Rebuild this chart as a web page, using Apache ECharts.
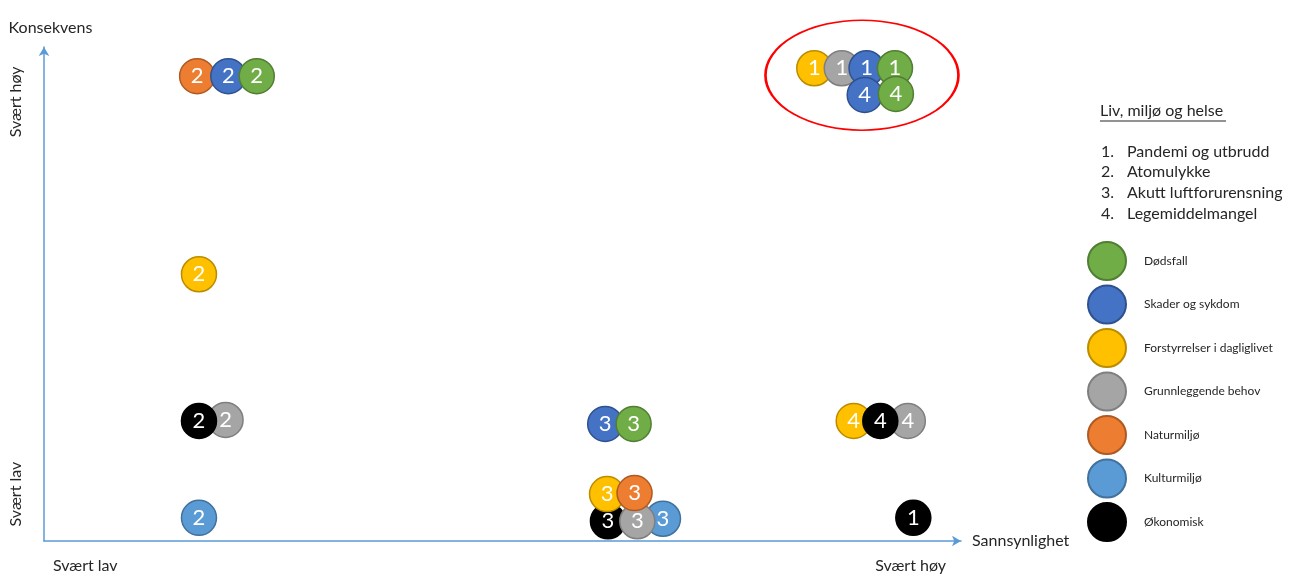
<!DOCTYPE html>
<html>
<head>
<meta charset="utf-8">
<script src="https://cdn.jsdelivr.net/npm/echarts@6/dist/echarts.min.js"></script>
<style>
  html, body { margin: 0; padding: 0; background: #ffffff; }
  #chart { width: 1302px; height: 578px; }
</style>
</head>
<body>
<div id="chart"></div>
<script>
// ---- Data ----
const categories = ['Dødsfall', 'Skader og sykdom', 'Forstyrrelser i dagliglivet', 'Grunnleggende behov', 'Naturmiljø', 'Kulturmiljø', 'Økonomisk'];
const hazards = ['Pandemi og utbrudd', 'Atomulykke', 'Akutt luftforurensning', 'Legemiddelmangel'];
const legendTitle = 'Liv, miljø og helse';

// points in drawing order (later ones drawn on top)
const pointX   = [16.7, 20.1, 23.2, 84.0, 87.0, 89.7, 92.8, 89.5, 92.9, 16.9, 19.8, 16.9, 16.9, 61.2, 64.3, 67.5, 61.5, 64.7, 61.4, 64.4, 88.3, 94.2, 91.2, 94.8];
const pointY   = [94.1, 94.1, 94.1, 95.7, 95.7, 95.7, 95.7, 90.3, 90.5, 54.0, 24.5, 24.3,  4.7, 23.7, 23.7,  4.5,  4.0,  4.0,  9.5,  9.7, 24.3, 24.3, 24.3,  4.7];
const pointNum = [2, 2, 2, 1, 1, 1, 1, 4, 4, 2, 2, 2, 2, 3, 3, 3, 3, 3, 3, 3, 4, 4, 4, 1];
const pointCat = [4, 1, 0, 2, 3, 1, 0, 1, 0, 2, 3, 6, 5, 1, 0, 5, 6, 3, 2, 4, 2, 3, 6, 6];

// highlighted group (red ellipse) centre
const highlightCenter = [89.2, 94.3];

const xTickValues = [4.5, 94.5];
const xTickLabels = ['Svært lav', 'Svært høy'];
const yTickValues = [9.5, 88.9];
const yTickLabels = ['Svært lav', 'Svært høy'];
const xAxisName = 'Sannsynlighet';
const yAxisName = 'Konsekvens';

// ---- Styles ----
const catColors  = ['#70AD47', '#4472C4', '#FFC000', '#A5A5A5', '#ED7D31', '#5B9BD5', '#000000'];
const catBorders = ['#507E32', '#2F528F', '#BC8C00', '#7F7F7F', '#AE5A21', '#41719C', '#000000'];
const FONT = 'Lato, "Open Sans", sans-serif';
const TXT = '#262626';
const AXIS_COLOR = '#5B9BD5';

const chart = echarts.init(document.getElementById('chart'), null, { renderer: 'canvas' });

const points = pointX.map((x, i) => ({
  value: [x, pointY[i], pointNum[i]],
  itemStyle: { color: catColors[pointCat[i]], borderColor: catBorders[pointCat[i]], borderWidth: 1.5, opacity: 1 }
}));

const legendSeries = categories.map((name, i) => ({
  name: name,
  type: 'scatter',
  data: [],
  itemStyle: { color: catColors[i], borderColor: catBorders[i], borderWidth: 1.5, opacity: 1 }
}));

const graphics = [];
graphics.push({
  type: 'text', left: 1100, top: 103,
  style: { text: legendTitle, font: '16px ' + FONT, fill: TXT }
});
graphics.push({
  type: 'line', shape: { x1: 1100, y1: 121, x2: 1226, y2: 121 },
  style: { stroke: TXT, lineWidth: 1 }
});
const listTop = [144, 164, 185, 206];
hazards.forEach((h, i) => {
  graphics.push({ type: 'text', left: 1101, top: listTop[i], style: { text: (i + 1) + '.', font: '16px ' + FONT, fill: TXT } });
  graphics.push({ type: 'text', left: 1127, top: listTop[i], style: { text: h, font: '16px ' + FONT, fill: TXT } });
});

const option = {
  animation: false,
  backgroundColor: '#ffffff',
  grid: { left: 44, right: 341, top: 47, bottom: 37, containLabel: false },
  xAxis: {
    type: 'value', min: 0, max: 100,
    name: xAxisName, nameLocation: 'end', nameGap: 11,
    nameTextStyle: { fontFamily: FONT, fontSize: 16, color: TXT, verticalAlign: 'middle' },
    axisLine: { show: true, onZero: false, symbol: ['none', 'arrow'], symbolSize: [8, 9], lineStyle: { color: AXIS_COLOR, width: 1.5 } },
    axisTick: { show: false },
    splitLine: { show: false },
    axisLabel: {
      customValues: xTickValues,
      formatter: v => xTickLabels[xTickValues.indexOf(v)] || '',
      margin: 17, fontFamily: FONT, fontSize: 16, color: TXT
    }
  },
  yAxis: {
    type: 'value', min: 0, max: 100,
    name: yAxisName, nameLocation: 'end', nameGap: 11,
    nameTextStyle: { fontFamily: FONT, fontSize: 16, color: TXT, padding: [0, 0, 0, 13] },
    axisLine: { show: true, onZero: false, symbol: ['none', 'arrow'], symbolSize: [8, 9], lineStyle: { color: AXIS_COLOR, width: 1.5 } },
    axisTick: { show: false },
    splitLine: { show: false },
    axisLabel: {
      customValues: yTickValues,
      formatter: v => yTickLabels[yTickValues.indexOf(v)] || '',
      rotate: 90, margin: 20, fontFamily: FONT, fontSize: 16, color: TXT
    }
  },
  legend: {
    orient: 'vertical', left: 1087, top: 241, padding: 0,
    itemWidth: 40, itemHeight: 38, itemGap: 3.5,
    icon: 'circle', selectedMode: false,
    data: categories,
    textStyle: { fontFamily: FONT, fontSize: 12, color: TXT, padding: [0, 0, 0, 12] }
  },
  graphic: graphics,
  series: legendSeries.concat([
    {
      name: 'highlight',
      type: 'scatter',
      data: [highlightCenter],
      symbol: 'circle',
      symbolSize: [193, 110],
      silent: true,
      itemStyle: { color: 'rgba(0,0,0,0)', borderColor: '#FF0000', borderWidth: 2, opacity: 1 },
      z: 1
    },
    {
      name: 'risks',
      type: 'scatter',
      data: points,
      symbol: 'circle',
      symbolSize: 35,
      z: 3,
      label: {
        show: true, position: 'inside',
        formatter: p => String(p.value[2]),
        fontFamily: FONT, fontSize: 22, color: '#ffffff'
      }
    }
  ])
};
chart.setOption(option);
</script>
</body>
</html>
